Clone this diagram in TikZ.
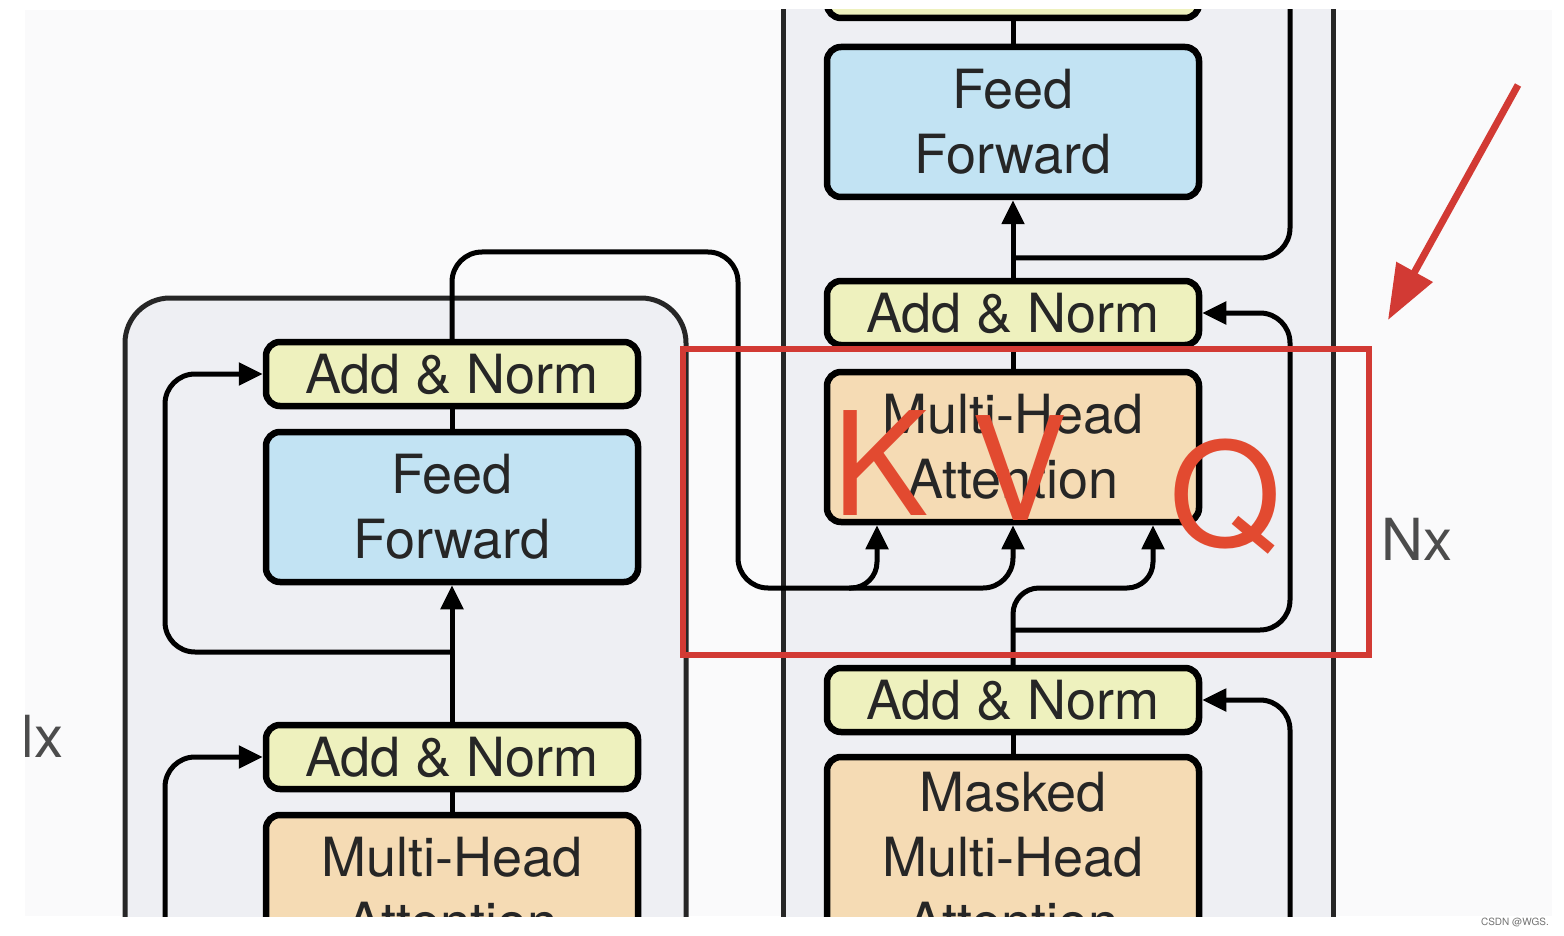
\documentclass[tikz,border=0pt]{standalone}
\usepackage{fontspec}
\setmainfont{TeX Gyre Heros}
\usetikzlibrary{arrows.meta, calc}

\definecolor{anyellow}{RGB}{238,241,190}
\definecolor{ffblue}{RGB}{194,227,243}
\definecolor{attpeach}{RGB}{245,219,180}
\definecolor{framegray}{RGB}{238,239,243}
\definecolor{shotbg}{RGB}{250,250,251}
\definecolor{markred}{RGB}{210,58,52}
\definecolor{letterred}{RGB}{226,74,48}

\begin{document}
\begin{tikzpicture}[
  x=1pt, y=-1pt,
  block/.style={rectangle, draw=black, line width=6.5pt, rounded corners=14pt,
                minimum width=372pt, align=center, inner sep=0pt,
                text=black!85, font=\fontsize{54}{65}\selectfont},
  anbox/.style={block, fill=anyellow, minimum height=64pt},
  ffbox/.style={block, fill=ffblue, minimum height=150pt},
  attbox/.style={block, fill=attpeach, minimum height=150pt},
  frame/.style={draw=black!85, line width=5pt, fill=framegray},
  conn/.style={draw=black, line width=5pt, rounded corners=30pt},
  arr/.style={conn, -{Triangle[length=24pt, width=22pt]}},
  kvq/.style={text=letterred, font=\fontsize{144}{144}\selectfont,
              inner sep=0pt, anchor=base},
  nlabel/.style={text=black!70, font=\fontsize{58}{58}\selectfont, inner sep=0pt}
]
\useasboundingbox (0,0) rectangle (1564,936);
\fill[white] (0,0) rectangle (1564,936);
\fill[shotbg] (25,10) rectangle (1552,916);

\begin{scope}
\clip (25,10) rectangle (1552,916);

% --- Frames ---
\filldraw[frame, rounded corners=45pt] (125,1100) -- (125,298) -- (686,298) -- (686,1100);
\fill[framegray] (783,-50) rectangle (1333,1100);
\draw[frame] (783,-50) -- (783,1100);
\draw[frame] (1333,-50) -- (1333,1100);

% --- Encoder blocks ---
\node[anbox]  (encan2) at (452,374) {Add \& Norm};
\node[ffbox]  (encff)  at (452,507) {Feed\\Forward};
\node[anbox]  (encan1) at (452,757) {Add \& Norm};
\node[attbox] (encmha) at (452,890) {Multi-Head\\Attention};

% --- Decoder blocks ---
\node[anbox]  (decan3)    at (1013,-14) {};
\node[ffbox]  (decff)     at (1013,122) {Feed\\Forward};
\node[anbox]  (decan2)    at (1013,313) {Add \& Norm};
\node[attbox] (decmha)    at (1013,447) {Multi-Head\\Attention};
\node[anbox]  (decan1)    at (1013,700) {Add \& Norm};
\node[attbox, minimum height=200pt] (decmasked) at (1013,857) {Masked\\Multi-Head\\Attention};

\coordinate (kin) at ($(decmha.south)+(-136,0)$);
\coordinate (qin) at ($(decmha.south)+(140,0)$);
\coordinate (kvrow) at (0,588);
\coordinate (encresrow) at (0,652);
\coordinate (decresrow) at (0,630);
\coordinate (decoutrow) at (0,258);
\coordinate (encin) at (165,1000);
\coordinate (decin) at (1290,1000);
\coordinate (decout) at (1290,-50);

% --- Encoder connectors ---
\draw[conn] (encff.north) -- (encan2.south);
\draw[arr]  (encan1.north) -- (encff.south);
\draw[conn] (encmha.north) -- (encan1.south);
\draw[arr]  (encan1.north |- encresrow) -- (165,652) -- (165,374) -- (encan2.west);
\draw[arr]  (encin) -- (165,757) -- (encan1.west);

% --- Encoder output to K and V ---
\draw[arr] (encan2.north) -- (452,252) -- (738,252) -- (738,588) -| (decmha.south);
\draw[arr, rounded corners=26pt] (849,588) -| (kin);

% --- Decoder connectors ---
\draw[conn] (decff.north) -- (decan3.south);
\draw[arr]  (decan2.north) -- (decff.south);
\draw[conn] (decmha.north) -- (decan2.south);
\draw[conn] (decmasked.north) -- (decan1.south);
\draw[arr, rounded corners=26pt] (decan1.north) |- (qin |- kvrow) -- (qin);
\draw[arr]  (decan1.north |- decresrow) -- (1290,630) -- (1290,313) -- (decan2.east);
\draw[conn] (decan2.north |- decoutrow) -- (1290,258) -- (decout);
\draw[arr]  (decin) -- (1290,700) -- (decan1.east);

% --- Marks ---
\node[draw=markred, line width=6pt, minimum width=686pt, minimum height=306pt,
      inner sep=0pt] (focus) at (1026,502) {};
\node[kvq] (klet) at (881,515) {K};
\node[kvq] (vlet) at (1020,520) {V};
\node[kvq] (qlet) at (1226,546) {Q};

\coordinate (pointtail) at (1518,85);
\coordinate (pointtip) at (1388,320);
\draw[markred, line width=7pt, -{Triangle[length=55pt, width=40pt]}] (pointtail) -- (pointtip);

\node[nlabel, anchor=base west] (nright) at (1381,560) {Nx};
\node[nlabel, anchor=base east] (nleft) at (64,757) {Nx};
\end{scope}

\node[font=\fontsize{10}{10}\selectfont, text=black!55, anchor=east, inner sep=0pt]
     (mark) at (1549,922) {CSDN @WGS.};

\end{tikzpicture}
\end{document}
